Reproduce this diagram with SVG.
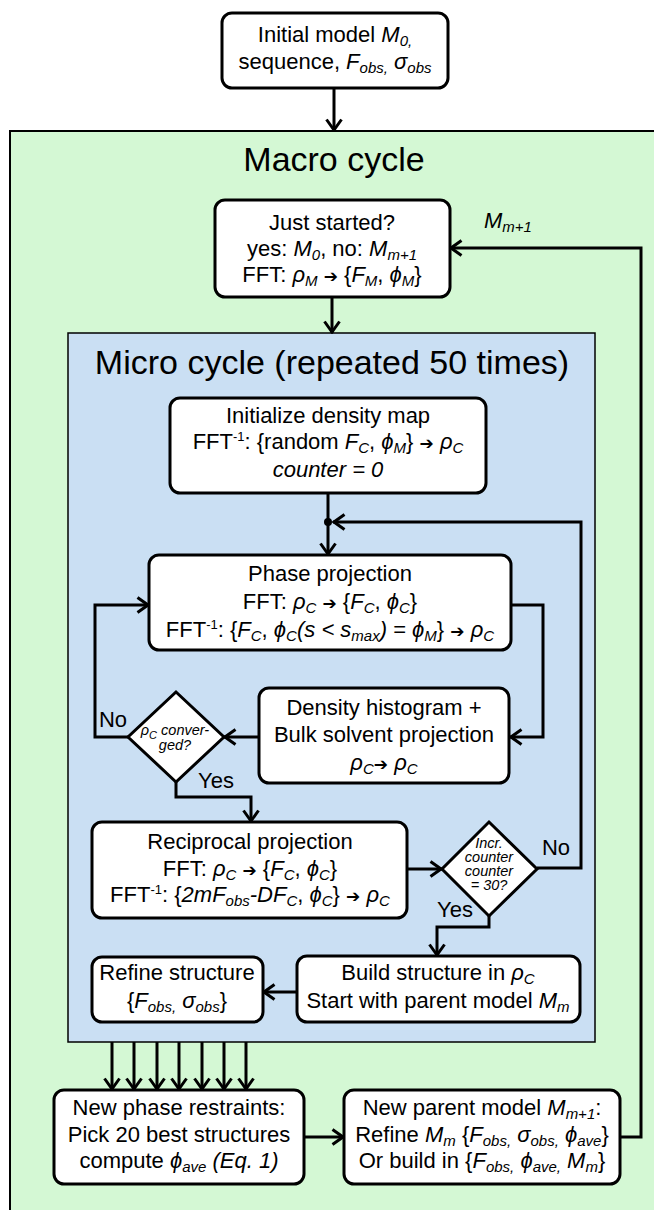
<svg xmlns="http://www.w3.org/2000/svg" width="654" height="1210" viewBox="0 0 654 1210">
<style>
.t{font-family:"Liberation Sans",Arial,"DejaVu Sans",sans-serif;font-size:22px;text-anchor:middle;fill:#000}
.ttl{font-size:34px}
.i{font-style:italic}
.s{font-size:15px;baseline-shift:-4px}
.p{font-size:13px;baseline-shift:8px}
.a{font-family:"DejaVu Sans",sans-serif;font-size:17px;font-style:normal}
.d{font-size:14.5px;font-style:italic}
.b{fill:#fff;stroke:#000;stroke-width:3}
.c{fill:none;stroke:#000;stroke-width:3}
.ca{fill:none;stroke:#000;stroke-width:3;marker-end:url(#ah)}
</style>
<defs>
<marker id="ah" viewBox="0 0 14 18" refX="13" refY="9" markerWidth="14" markerHeight="18" orient="auto" markerUnits="userSpaceOnUse">
<path d="M1.5,1.5 L12,9 L1.5,16.5" fill="none" stroke="#000" stroke-width="3"/>
</marker>
</defs>
<rect width="654" height="1210" fill="#fff"/>
<g id="macro">
<rect x="10" y="131" width="700" height="1200" fill="#d4f8d4" stroke="#000" stroke-width="2"/>
<text class="t ttl" x="334" y="171">Macro cycle</text>
</g>
<g id="micro">
<rect x="68" y="333" width="527" height="709" fill="#cadff3" stroke="#000" stroke-width="1.5"/>
<text class="t ttl" x="332" y="374">Micro cycle (repeated 50 times)</text>
</g>
<g id="connectors">
<path class="ca" d="M334,88 V131"/>
<path class="ca" d="M332,297 V333"/>
<path class="c" d="M328,493 V522"/>
<path class="ca" d="M328,522 V555"/>
<circle cx="328" cy="522" r="4" fill="#000"/>
<path class="ca" d="M537,868 H581 V522 H333"/>
<path class="ca" d="M511,605 H543 V737 H510"/>
<path class="ca" d="M259,737 H224"/>
<path class="ca" d="M128,737 H95 V605 H149"/>
<path class="ca" d="M176,782 V797 H251 V822"/>
<path class="ca" d="M407,869 H442"/>
<path class="ca" d="M489,916 V927 H437 V956"/>
<path class="ca" d="M297,992 H263"/>
<path class="ca" d="M112,1042 V1090"/>
<path class="ca" d="M134,1042 V1090"/>
<path class="ca" d="M157,1042 V1090"/>
<path class="ca" d="M179,1042 V1090"/>
<path class="ca" d="M202,1042 V1090"/>
<path class="ca" d="M224,1042 V1090"/>
<path class="ca" d="M246,1042 V1090"/>
<path class="ca" d="M304,1137 H344"/>
<path class="ca" d="M620,1137 H641 V248 H450"/>
<text class="t" x="508" y="228"><tspan class="i">M</tspan><tspan class="i s">m+1</tspan></text>
<text class="t" x="113" y="727">No</text>
<text class="t" x="216" y="788">Yes</text>
<text class="t" x="556" y="855">No</text>
<text class="t" x="455" y="917">Yes</text>
</g>
<g id="start">
<rect class="b" x="222" y="13" width="226" height="75" rx="10"/>
<text class="t" x="335" y="42">Initial model <tspan class="i">M</tspan><tspan class="i s">0,</tspan></text>
<text class="t" x="335" y="69">sequence, <tspan class="i">F</tspan><tspan class="i s">obs,</tspan> <tspan class="i">σ</tspan><tspan class="i s">obs</tspan></text>
</g>
<g id="just-started">
<rect class="b" x="215" y="200" width="235" height="97" rx="10"/>
<text class="t" x="332" y="230">Just started?</text>
<text class="t" x="332" y="256">yes: <tspan class="i">M</tspan><tspan class="i s">0</tspan>, no: <tspan class="i">M</tspan><tspan class="i s">m+1</tspan></text>
<text class="t" x="332" y="282">FFT: <tspan class="i">ρ</tspan><tspan class="i s">M</tspan> <tspan class="a">➔</tspan> {<tspan class="i">F</tspan><tspan class="i s">M</tspan>, <tspan class="i">ϕ</tspan><tspan class="i s">M</tspan>}</text>
</g>
<g id="init">
<rect class="b" x="170" y="398" width="316" height="95" rx="10"/>
<text class="t" x="328" y="423">Initialize density map</text>
<text class="t" x="328" y="449">FFT<tspan class="p">-1</tspan>: {random <tspan class="i">F</tspan><tspan class="i s">C</tspan>, <tspan class="i">ϕ</tspan><tspan class="i s">M</tspan>} <tspan class="a">➔</tspan> <tspan class="i">ρ</tspan><tspan class="i s">C</tspan></text>
<text class="t i" x="328" y="477">counter = 0</text>
</g>
<g id="phase">
<rect class="b" x="149" y="555" width="362" height="95" rx="10"/>
<text class="t" x="330" y="581">Phase projection</text>
<text class="t" x="330" y="609">FFT: <tspan class="i">ρ</tspan><tspan class="i s">C</tspan> <tspan class="a">➔</tspan> {<tspan class="i">F</tspan><tspan class="i s">C</tspan>, <tspan class="i">ϕ</tspan><tspan class="i s">C</tspan>}</text>
<text class="t" x="330" y="637">FFT<tspan class="p">-1</tspan>: {<tspan class="i">F</tspan><tspan class="i s">C</tspan>, <tspan class="i">ϕ</tspan><tspan class="i s">C</tspan><tspan class="i">(s &lt; s</tspan><tspan class="i s">max</tspan><tspan class="i">)</tspan> = <tspan class="i">ϕ</tspan><tspan class="i s">M</tspan>} <tspan class="a">➔</tspan> <tspan class="i">ρ</tspan><tspan class="i s">C</tspan></text>
</g>
<g id="density">
<rect class="b" x="259" y="688" width="250" height="95" rx="10"/>
<text class="t" x="384" y="715">Density histogram +</text>
<text class="t" x="384" y="742">Bulk solvent projection</text>
<text class="t" x="384" y="770"><tspan class="i">ρ</tspan><tspan class="i s">C</tspan><tspan class="a">➔</tspan> <tspan class="i">ρ</tspan><tspan class="i s">C</tspan></text>
</g>
<g id="converged">
<polygon class="b" points="176,692 224,737 176,782 128,737"/>
<text class="t d" x="175" y="735">ρ<tspan class="s" style="font-size:11px">C</tspan> conver-</text>
<text class="t d" x="175" y="750">ged?</text>
</g>
<g id="reciprocal">
<rect class="b" x="92" y="822" width="315" height="96" rx="10"/>
<text class="t" x="250" y="849">Reciprocal projection</text>
<text class="t" x="250" y="876">FFT: <tspan class="i">ρ</tspan><tspan class="i s">C</tspan> <tspan class="a">➔</tspan> {<tspan class="i">F</tspan><tspan class="i s">C</tspan>, <tspan class="i">ϕ</tspan><tspan class="i s">C</tspan>}</text>
<text class="t" x="250" y="902">FFT<tspan class="p">-1</tspan>: {<tspan class="i">2mF</tspan><tspan class="i s">obs</tspan><tspan class="i">-DF</tspan><tspan class="i s">C</tspan>, <tspan class="i">ϕ</tspan><tspan class="i s">C</tspan>} <tspan class="a">➔</tspan> <tspan class="i">ρ</tspan><tspan class="i s">C</tspan></text>
</g>
<g id="counter">
<polygon class="b" points="489,822 537,869 489,916 442,869"/>
<text class="t d" x="489" y="848">Incr.</text>
<text class="t d" x="489" y="862">counter</text>
<text class="t d" x="489" y="876">counter</text>
<text class="t d" x="489" y="890">= 30?</text>
</g>
<g id="build">
<rect class="b" x="297" y="956" width="283" height="66" rx="10"/>
<text class="t" x="438" y="980">Build structure in <tspan class="i">ρ</tspan><tspan class="i s">C</tspan></text>
<text class="t" x="438" y="1008">Start with parent model <tspan class="i">M</tspan><tspan class="i s">m</tspan></text>
</g>
<g id="refine">
<rect class="b" x="92" y="957" width="171" height="65" rx="10"/>
<text class="t" x="177" y="980">Refine structure</text>
<text class="t" x="177" y="1008">{<tspan class="i">F</tspan><tspan class="i s">obs,</tspan> <tspan class="i">σ</tspan><tspan class="i s">obs</tspan>}</text>
</g>
<g id="new-phase">
<rect class="b" x="54" y="1090" width="250" height="94" rx="10"/>
<text class="t" x="179" y="1115">New phase restraints:</text>
<text class="t" x="179" y="1142">Pick 20 best structures</text>
<text class="t" x="179" y="1168">compute <tspan class="i">ϕ</tspan><tspan class="i s">ave</tspan><tspan class="i"> (Eq. 1)</tspan></text>
</g>
<g id="new-parent">
<rect class="b" x="344" y="1090" width="276" height="94" rx="10"/>
<text class="t" x="482" y="1115">New parent model <tspan class="i">M</tspan><tspan class="i s">m+1</tspan>:</text>
<text class="t" x="482" y="1142">Refine <tspan class="i">M</tspan><tspan class="i s">m</tspan> {<tspan class="i">F</tspan><tspan class="i s">obs,</tspan> <tspan class="i">σ</tspan><tspan class="i s">obs,</tspan> <tspan class="i">ϕ</tspan><tspan class="i s">ave</tspan>}</text>
<text class="t" x="482" y="1168">Or build in {<tspan class="i">F</tspan><tspan class="i s">obs,</tspan> <tspan class="i">ϕ</tspan><tspan class="i s">ave,</tspan> <tspan class="i">M</tspan><tspan class="i s">m</tspan>}</text>
</g>
</svg>
